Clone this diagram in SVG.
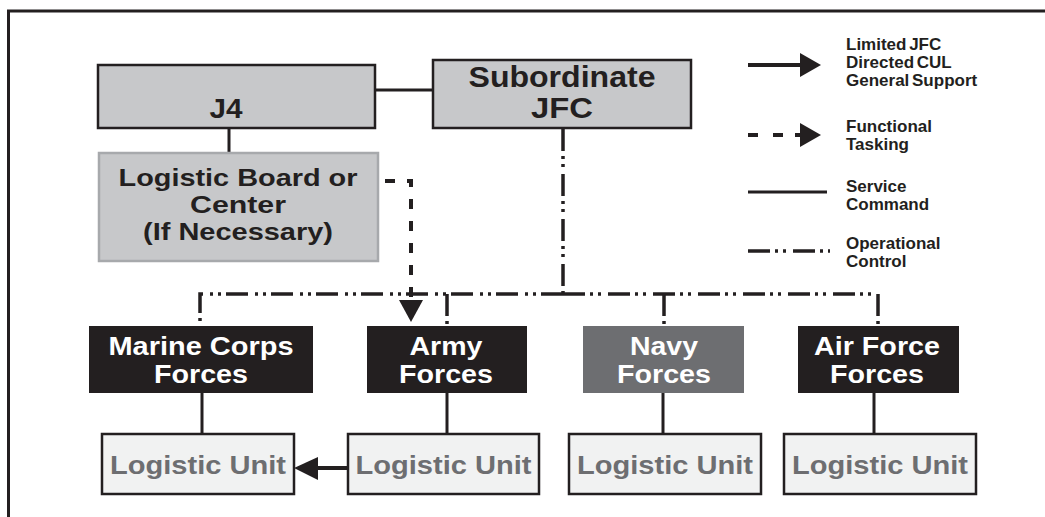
<svg xmlns="http://www.w3.org/2000/svg" width="1045" height="517" viewBox="0 0 1045 517">
<style>
  text { font-family: "Liberation Sans", Arial, Helvetica, sans-serif; font-weight: bold; text-anchor: middle; }
  .big { font-size: 26px; }
  .board { font-size: 24px; }
  .dark { fill: #231f20; }
  .white { fill: #ffffff; }
  .lutext { fill: #6d6e71; }
  .leg { font-size: 17px; text-anchor: start; fill: #231f20; word-spacing: -2px; }
  .grayBox { fill: #c7c8ca; stroke: #231f20; stroke-width: 2.5; }
  .force { fill: #231f20; }
  .lu { fill: #f1f2f2; stroke: #231f20; stroke-width: 2.5; }
  .svc { fill: none; stroke: #231f20; stroke-width: 3; }
  .opc { fill: none; stroke: #231f20; stroke-width: 3.5; stroke-dasharray: 22 5 3 5 3 7; }
  .func { fill: none; stroke: #231f20; stroke-width: 4; stroke-dasharray: 10 12; }
  .sup { fill: none; stroke: #231f20; stroke-width: 4; }
  .head { fill: #231f20; }
</style>

<!-- frame -->
<path d="M8.5,517 V11 H1045" fill="none" stroke="#231f20" stroke-width="3"/>

<g id="connectors">
  <!-- service command -->
  <line class="svc" x1="375" y1="90" x2="433" y2="90"/>
  <line class="svc" x1="229" y1="128" x2="229" y2="153"/>
  <line class="svc" x1="202" y1="393" x2="202" y2="434"/>
  <line class="svc" x1="447" y1="393" x2="447" y2="434"/>
  <line class="svc" x1="663" y1="393" x2="663" y2="434"/>
  <line class="svc" x1="874" y1="393" x2="874" y2="434"/>
  <!-- operational control -->
  <path class="opc" d="M563,129 V294"/>
  <path class="opc" d="M563,294 H200 V324"/>
  <path class="opc" d="M563,294 H878 V324"/>
  <path class="opc" d="M447,294 V324"/>
  <path class="opc" d="M664,294 V324"/>
  <!-- functional tasking -->
  <path class="func" d="M385,181 H411 V300"/>
  <polygon class="head" points="399,300 423,300 411,322"/>
  <!-- limited JFC directed CUL -->
  <line class="sup" x1="348" y1="468" x2="316" y2="468"/>
  <polygon class="head" points="294,468 318,457 318,480"/>
</g>

<g id="j4">
  <rect class="grayBox" x="98" y="65" width="277" height="63"/>
  <text class="dark" x="226" y="118" style="font-size:27px" textLength="33" lengthAdjust="spacingAndGlyphs">J4</text>
</g>

<g id="subordinate-jfc">
  <rect class="grayBox" x="433" y="60" width="258" height="68"/>
  <text class="dark" x="562" y="87" style="font-size:29px" textLength="187" lengthAdjust="spacingAndGlyphs">Subordinate</text>
  <text class="dark" x="562" y="118" style="font-size:29px" textLength="62" lengthAdjust="spacingAndGlyphs">JFC</text>
</g>

<g id="logistic-board">
  <rect x="99" y="153" width="279" height="108" fill="#c7c8ca" stroke="#a7a9ac" stroke-width="2.5"/>
  <text class="board dark" x="238" y="186" textLength="239" lengthAdjust="spacingAndGlyphs">Logistic Board or</text>
  <text class="board dark" x="238" y="213" textLength="96" lengthAdjust="spacingAndGlyphs">Center</text>
  <text class="board dark" x="238" y="240" textLength="190" lengthAdjust="spacingAndGlyphs">(If Necessary)</text>
</g>

<g id="marine-corps-forces">
  <rect class="force" x="89" y="326" width="224" height="67"/>
  <text class="big white" x="201" y="355" textLength="185" lengthAdjust="spacingAndGlyphs">Marine Corps</text>
  <text class="big white" x="201" y="383" textLength="94" lengthAdjust="spacingAndGlyphs">Forces</text>
</g>

<g id="army-forces">
  <rect class="force" x="367" y="326" width="160" height="67"/>
  <text class="big white" x="446" y="355" textLength="73" lengthAdjust="spacingAndGlyphs">Army</text>
  <text class="big white" x="446" y="383" textLength="94" lengthAdjust="spacingAndGlyphs">Forces</text>
</g>

<g id="navy-forces">
  <rect x="583" y="326" width="161" height="67" fill="#6d6e71"/>
  <text class="big white" x="664" y="355" textLength="68" lengthAdjust="spacingAndGlyphs">Navy</text>
  <text class="big white" x="664" y="383" textLength="94" lengthAdjust="spacingAndGlyphs">Forces</text>
</g>

<g id="air-force-forces">
  <rect class="force" x="798" y="326" width="161" height="67"/>
  <text class="big white" x="877" y="355" textLength="126" lengthAdjust="spacingAndGlyphs">Air Force</text>
  <text class="big white" x="877" y="383" textLength="94" lengthAdjust="spacingAndGlyphs">Forces</text>
</g>

<g id="logistic-unit-marine">
  <rect class="lu" x="102" y="434" width="192" height="60"/>
  <text class="big lutext" x="198" y="474" textLength="176" lengthAdjust="spacingAndGlyphs">Logistic Unit</text>
</g>
<g id="logistic-unit-army">
  <rect class="lu" x="348" y="434" width="191" height="60"/>
  <text class="big lutext" x="443.5" y="474" textLength="176" lengthAdjust="spacingAndGlyphs">Logistic Unit</text>
</g>
<g id="logistic-unit-navy">
  <rect class="lu" x="569" y="434" width="192" height="60"/>
  <text class="big lutext" x="665" y="474" textLength="176" lengthAdjust="spacingAndGlyphs">Logistic Unit</text>
</g>
<g id="logistic-unit-airforce">
  <rect class="lu" x="784" y="434" width="192" height="60"/>
  <text class="big lutext" x="880" y="474" textLength="176" lengthAdjust="spacingAndGlyphs">Logistic Unit</text>
</g>

<g id="legend">
  <line class="sup" x1="748" y1="65" x2="802" y2="65"/>
  <polygon class="head" points="800,53 821,65 800,77"/>
  <text class="leg" x="846" y="50">Limited JFC</text>
  <text class="leg" x="846" y="68">Directed CUL</text>
  <text class="leg" x="846" y="86">General Support</text>

  <path d="M748,135 H800" fill="none" stroke="#231f20" stroke-width="4" stroke-dasharray="10 15 10 12"/>
  <polygon class="head" points="800,123 821,135 800,147"/>
  <text class="leg" x="846" y="132">Functional</text>
  <text class="leg" x="846" y="150">Tasking</text>

  <line class="svc" x1="748" y1="192" x2="827" y2="192"/>
  <text class="leg" x="846" y="192">Service</text>
  <text class="leg" x="846" y="210">Command</text>

  <path class="opc" d="M748,251 H830"/>
  <text class="leg" x="846" y="249">Operational</text>
  <text class="leg" x="846" y="267">Control</text>
</g>
</svg>
